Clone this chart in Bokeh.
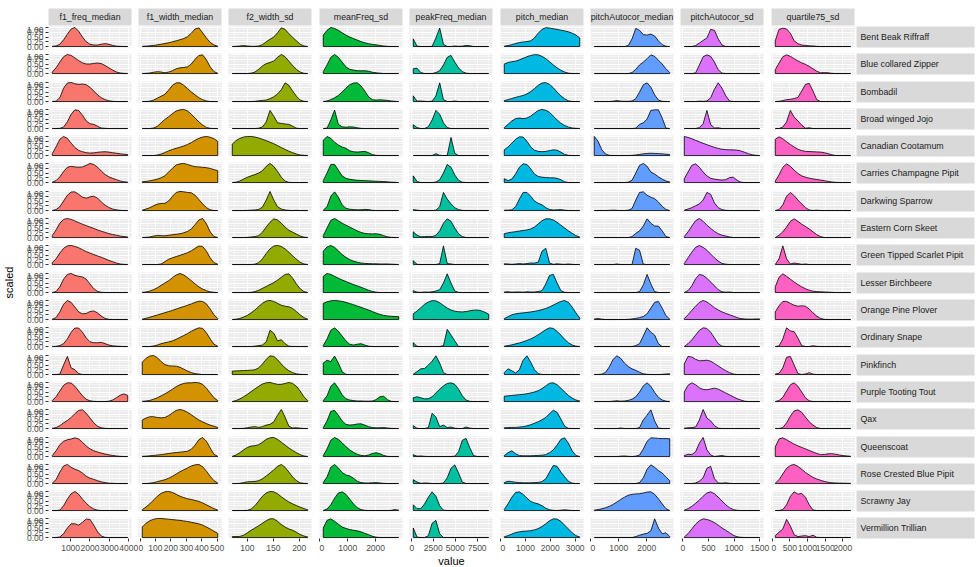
import numpy as np
from bokeh.plotting import figure
from bokeh.layouts import row, column
from bokeh.models import Range1d, FixedTicker, NumeralTickFormatter, Spacer, AllLabels
from bokeh.embed import file_html
from bokeh.resources import INLINE
from bokeh.core.properties import value

species = ["Bent Beak Riffraff", "Blue collared Zipper", "Bombadil", "Broad winged Jojo",
           "Canadian Cootamum", "Carries Champagne Pipit", "Darkwing Sparrow", "Eastern Corn Skeet",
           "Green Tipped Scarlet Pipit", "Lesser Birchbeere", "Orange Pine Plover", "Ordinary Snape",
           "Pinkfinch", "Purple Tooting Tout", "Qax", "Queenscoat", "Rose Crested Blue Pipit",
           "Scrawny Jay", "Vermillion Trillian"]
variables = ["f1_freq_median", "f1_width_median", "f2_width_sd", "meanFreq_sd", "peakFreq_median",
             "pitch_median", "pitchAutocor_median", "pitchAutocor_sd", "quartile75_sd"]
colors = ["#F8766D", "#D39200", "#93AA00", "#00BA38", "#00C19F", "#00B9E3", "#619CFF", "#DB72FB", "#FF61C3"]

# data extent of each variable (density evaluated over it)
x_lo = [53, 14.5, 70.8, 124, 214, 147, 129, 27, 87]
x_hi = [3949, 504.5, 216.4, 2829, 8820, 3184, 2816, 1500, 2223]
x_breaks = [[1000, 2000, 3000, 4000], [0, 100, 200, 300, 400, 500], [100, 150, 200], [0, 1000, 2000],
            [0, 2500, 5000, 7500], [0, 1000, 2000, 3000], [0, 1000, 2000], [0, 500, 1000, 1500],
            [0, 500, 1000, 1500, 2000]]
x_minor = [[0, 500, 1500, 2500, 3500], [50, 150, 250, 350, 450], [75, 125, 175], [500, 1500, 2500],
           [1250, 3750, 6250, 8750], [500, 1500, 2500], [500, 1500, 2500], [250, 750, 1250],
           [250, 750, 1250, 1750, 2250]]
y_breaks = [0, 0.25, 0.5, 0.75, 1.0]
y_minor = [0.125, 0.375, 0.625, 0.875]

# scaled density (x100) sampled at 21 evenly spaced points of each variable's extent
f1_freq_median = [
    [1,3,12,35,65,92,100,80,50,25,12,8,8,12,15,12,6,2,1,0,0],
    [8,30,60,88,100,95,82,68,56,50,50,53,55,52,42,30,18,8,3,1,0],
    [0,2,20,70,97,100,93,90,92,88,75,55,35,20,10,4,1,0,0,0,0],
    [0,0,1,8,35,75,98,95,70,40,25,22,12,3,1,0,0,0,0,0,0],
    [10,45,85,100,90,65,42,27,20,15,13,14,17,19,20,18,15,12,9,7,5],
    [2,10,30,58,80,85,82,80,82,90,100,95,80,60,42,30,22,15,8,4,2],
    [0,5,20,50,80,97,98,85,70,65,72,75,65,45,28,16,8,4,1,0,0],
    [10,40,75,95,100,95,87,78,70,62,55,48,40,33,27,21,16,12,8,5,3],
    [10,30,60,85,98,100,95,88,78,68,60,52,45,38,30,22,15,8,3,1,0],
    [0,5,30,70,95,100,90,85,82,70,45,20,6,1,0,0,0,0,0,0,0],
    [2,10,40,80,100,90,65,40,30,32,42,45,35,18,6,1,0,0,0,0,0],
    [0,1,5,15,40,75,97,97,75,45,25,20,20,22,15,8,4,2,1,0,0],
    [0,0,2,50,95,35,25,5,0,0,0,0,0,0,0,0,0,0,0,0,0],
    [5,25,55,85,98,97,80,55,30,12,4,1,0,0,0,2,8,20,33,40,32],
    [1,5,15,30,42,58,78,95,98,80,55,30,12,4,1,0,0,0,0,0,0],
    [5,30,62,80,88,92,98,92,75,55,40,30,24,18,13,9,6,3,1,0,0],
    [2,20,60,92,100,85,75,68,55,38,28,22,15,9,5,2,1,0,0,0,0],
    [0,0,2,25,60,88,100,85,60,38,20,8,2,0,0,0,0,0,0,0,0],
    [0,0,3,20,50,72,72,65,80,97,95,65,30,8,1,0,0,0,0,0,0],
]
f1_width_median = [
    [1,2,4,6,9,12,16,20,25,30,36,42,52,70,92,98,72,45,22,8,2],
    [0,1,3,7,10,8,4,8,15,25,30,32,35,50,75,95,98,72,35,10,2],
    [0,0,2,8,18,28,38,60,85,98,98,85,68,50,35,20,10,3,0,0,0],
    [0,0,0,3,12,30,48,62,78,92,98,100,92,75,55,35,18,6,1,0,0],
    [0,0,0,0,3,8,16,25,32,38,44,50,58,68,80,90,97,100,96,88,75],
    [4,6,9,13,18,25,36,55,75,92,98,100,95,88,83,82,80,78,74,68,62],
    [2,8,15,25,34,37,38,50,75,95,100,98,95,93,80,58,35,15,4,0,0],
    [0,1,3,8,11,10,9,12,15,17,20,25,32,45,68,92,100,72,30,5,0],
    [0,0,0,0,0,3,15,28,35,42,48,55,62,72,85,97,95,70,35,10,2],
    [1,3,8,15,25,38,50,62,78,92,100,92,78,62,45,30,18,10,4,1,0],
    [2,7,12,18,24,30,36,42,48,55,62,68,75,82,90,96,95,82,55,25,5],
    [0,0,0,3,8,15,20,24,30,38,48,58,68,80,90,98,95,72,40,12,2],
    [65,85,97,100,88,68,52,46,45,44,38,28,18,10,5,2,0,0,0,0,0],
    [1,3,6,12,20,30,40,52,65,78,88,95,98,98,100,98,90,70,45,20,5],
    [45,55,62,62,58,56,58,68,82,95,100,95,85,72,58,45,35,26,18,12,6],
    [1,2,4,6,8,10,13,16,19,21,23,25,28,38,60,88,100,80,45,12,1],
    [0,0,2,5,10,15,20,28,38,50,62,72,82,92,98,100,88,65,38,15,3],
    [5,18,35,55,75,90,98,100,95,85,75,68,62,58,53,48,40,30,20,10,3],
    [55,75,88,96,100,100,98,96,94,92,90,87,84,80,76,72,65,55,45,33,22],
]
f2_width_sd = [
    [0,1,3,5,3,1,1,3,10,25,38,50,72,98,90,68,48,30,12,3,0],
    [0,0,0,0,0,2,8,22,40,52,58,66,85,100,88,65,42,22,8,1,0],
    [0,0,0,0,0,0,1,4,6,8,15,25,40,62,98,85,55,28,8,1,0],
    [0,0,0,0,0,0,0,2,8,35,95,65,30,27,24,22,12,2,0,0,0],
    [60,78,90,97,100,100,97,92,85,78,70,62,52,42,32,23,15,8,3,1,0],
    [0,2,8,18,28,35,42,50,62,85,100,85,58,28,8,1,0,0,0,0,0],
    [0,0,0,0,1,2,3,6,18,55,100,55,20,8,3,1,0,1,0,0,0],
    [0,0,0,0,1,3,5,10,28,55,80,98,92,75,55,38,28,18,8,2,0],
    [0,0,0,0,0,0,2,10,30,58,82,97,100,95,82,65,45,28,12,3,0],
    [0,0,0,0,0,1,5,12,22,32,42,52,65,80,95,98,75,45,20,5,0],
    [0,2,6,13,22,35,50,68,85,97,100,95,85,75,70,67,58,42,25,10,2],
    [0,0,0,0,0,0,2,5,8,25,85,70,30,36,15,2,0,0,0,0,0],
    [18,19,20,21,22,23,25,35,55,80,98,95,78,55,35,20,10,4,1,0,0],
    [0,5,14,25,38,52,66,80,92,98,100,95,90,90,95,100,95,80,55,25,5],
    [0,0,0,1,4,8,10,6,10,18,22,35,70,100,60,12,3,4,2,0,0],
    [1,8,20,35,48,55,57,62,75,90,98,100,90,75,60,45,32,20,10,3,0],
    [0,0,1,5,9,10,11,15,25,40,55,72,90,100,85,60,35,15,4,1,0],
    [0,0,0,0,1,8,25,50,75,92,100,98,88,72,58,45,35,26,18,10,4],
    [5,5,6,12,25,38,50,62,75,88,98,98,85,68,55,45,38,28,16,8,3],
]
meanFreq_sd = [
    [60,85,100,95,85,72,60,50,42,34,26,20,15,11,9,6,3,1,0,0,0],
    [10,45,85,100,85,60,35,22,18,15,14,15,12,7,4,2,0,0,0,0,0],
    [0,3,10,20,32,50,70,88,97,98,82,55,25,10,8,9,8,6,3,1,0],
    [0,2,45,97,22,9,7,9,8,4,1,0,0,0,0,0,0,0,0,0,0],
    [80,100,90,70,55,45,38,25,20,18,20,22,15,5,1,0,0,0,0,0,0],
    [10,50,95,95,65,35,22,17,14,12,11,10,9,8,7,6,5,4,2,1,0],
    [2,20,75,98,70,30,12,7,5,4,4,6,5,1,0,0,0,0,0,0,0],
    [10,50,90,100,88,75,65,55,45,35,27,22,20,19,20,17,10,4,1,0,0],
    [70,92,100,90,72,52,38,26,18,12,8,6,5,4,4,3,3,3,2,1,0],
    [85,100,95,85,75,66,58,50,42,35,28,20,12,6,2,0,0,0,0,0,0],
    [85,93,98,100,98,95,90,84,78,71,64,57,50,42,34,27,22,19,17,16,15],
    [5,40,85,98,80,55,30,12,8,12,15,8,2,0,0,0,0,0,0,0,0],
    [60,75,68,97,60,15,1,0,0,0,0,0,0,0,0,0,0,0,0,0,0],
    [5,30,80,98,70,35,15,8,5,3,3,2,2,3,10,25,28,10,1,0,0],
    [5,40,90,95,70,40,22,18,20,24,25,18,10,5,4,4,5,3,1,0,0],
    [5,40,85,100,90,72,52,35,22,12,6,4,8,16,20,15,6,1,0,0,0],
    [5,35,85,100,82,58,45,40,28,12,5,3,3,4,5,3,1,0,0,0,0],
    [0,8,30,65,92,98,85,60,35,15,5,1,0,0,0,0,0,0,1,5,2],
    [50,90,98,85,70,55,48,42,38,35,30,22,15,7,2,0,0,0,0,0,0],
]
peakFreq_median = [
    [40,2,0,0,0,1,45,97,12,0,0,3,1,2,6,4,0,0,0,0,0],
    [25,28,5,0,0,0,5,15,45,85,95,60,30,10,2,0,0,0,0,0,0],
    [30,2,3,1,0,2,30,98,10,0,0,3,0,0,0,0,0,0,0,0,0],
    [20,5,0,0,10,45,95,75,30,5,0,0,0,0,0,0,0,0,0,0,0],
    [0,0,0,0,0,0,10,1,0,0,95,12,0,0,0,0,0,0,0,0,0],
    [35,5,0,0,0,0,3,15,50,95,80,40,12,2,0,0,0,0,0,0,0],
    [5,2,0,0,0,0,2,20,95,60,35,15,5,1,0,0,0,0,0,0,0],
    [30,12,4,5,6,5,12,35,75,98,85,50,20,5,0,0,0,0,0,0,0],
    [20,1,0,0,0,0,0,5,98,5,3,0,0,0,0,0,0,0,0,0,0],
    [10,2,1,3,2,4,8,15,50,98,50,8,1,0,0,0,0,0,0,0,0],
    [30,45,62,80,92,99,98,88,74,60,50,44,41,40,42,46,49,50,46,38,28],
    [20,1,0,0,0,0,0,0,5,90,60,30,0,0,0,0,0,0,0,0,0],
    [2,15,30,32,50,70,98,60,10,0,0,0,0,0,0,0,0,0,0,0,0],
    [20,25,20,14,15,25,45,65,82,95,98,90,65,30,8,1,0,0,0,0,0],
    [15,1,0,0,5,80,60,10,18,5,8,2,0,0,8,2,0,0,0,0,0],
    [10,2,3,1,0,0,0,0,0,0,0,2,25,85,95,45,5,0,0,0,0],
    [20,8,1,3,2,0,0,0,3,30,80,98,55,8,0,0,0,0,0,0,0],
    [30,10,10,35,70,98,75,25,2,0,0,0,0,0,0,0,0,0,0,0,0],
    [50,2,0,0,10,75,90,20,0,0,0,0,0,0,0,0,0,0,0,0,0],
]
pitch_median = [
    [2,5,10,16,21,24,26,30,45,70,90,99,97,93,90,86,82,77,70,60,45],
    [50,58,62,65,72,80,88,95,99,98,90,78,62,45,30,17,8,2,0,0,0],
    [5,10,16,22,27,32,40,52,68,85,97,99,90,72,50,30,14,4,0,0,0],
    [5,22,40,52,55,52,55,65,80,95,100,96,85,65,45,28,16,8,3,1,0],
    [30,45,65,85,98,97,75,45,28,22,20,22,26,30,28,18,6,1,0,0,0],
    [20,10,18,45,80,98,95,72,45,32,28,26,25,25,22,15,4,0,0,0,0],
    [2,2,4,20,60,95,95,75,50,38,30,15,5,3,4,5,2,0,0,0,0],
    [20,25,28,31,34,37,40,45,55,72,88,98,98,92,80,65,50,35,22,10,3],
    [4,3,1,3,5,3,5,8,8,12,70,85,8,1,4,2,1,3,1,0,0],
    [3,4,2,3,3,2,4,3,3,5,10,45,90,95,50,10,1,0,0,0,0],
    [5,15,25,30,33,35,37,40,43,47,52,58,66,76,86,95,100,90,65,35,8],
    [2,5,9,14,19,25,32,40,50,62,75,88,98,95,80,60,38,20,8,2,0],
    [10,30,20,8,25,75,98,65,25,5,0,0,0,0,0,0,0,0,0,0,0],
    [28,30,32,34,36,38,41,45,50,57,68,82,96,98,88,70,50,32,18,8,3],
    [4,5,6,6,8,10,14,20,28,36,46,58,78,96,85,50,12,1,0,0,0],
    [5,20,30,15,5,4,4,4,5,6,7,10,20,35,60,90,98,70,30,5,0],
    [5,12,10,7,5,4,4,4,5,6,10,25,60,95,90,60,35,12,2,0,0],
    [5,35,70,95,98,85,65,48,40,35,25,12,4,1,0,2,4,2,0,0,0],
    [4,10,18,26,30,33,34,36,40,47,58,72,88,98,97,85,65,45,25,10,3],
]
pitchAutocor_median = [
    [0,0,0,0,0,0,0,0,0,5,40,95,85,62,60,65,55,30,10,1,0],
    [0,0,0,0,0,0,0,0,0,0,5,22,45,60,78,98,90,70,50,25,5],
    [0,0,0,0,0,2,5,2,1,1,3,15,50,88,98,75,35,8,1,0,0],
    [0,0,0,0,0,0,0,0,0,0,0,2,22,30,50,95,98,98,55,2,0],
    [100,75,30,8,1,0,0,0,0,0,1,3,6,9,11,12,11,10,9,7,5],
    [0,0,0,0,0,0,0,0,0,2,12,50,90,100,85,55,45,30,18,8,3],
    [0,0,0,0,1,2,1,0,0,2,10,55,95,98,80,70,62,45,22,6,0],
    [0,0,0,0,0,0,0,0,0,0,5,22,35,60,98,75,60,60,35,5,0],
    [0,0,0,0,0,0,3,0,0,0,0,85,75,2,0,0,0,0,0,0,0],
    [0,0,0,0,0,0,0,0,0,0,0,0,5,40,95,45,5,0,0,0,0],
    [3,5,2,0,0,0,0,0,0,1,3,6,10,16,30,60,90,95,60,20,3],
    [0,0,0,0,0,0,0,0,0,0,0,5,15,55,98,75,60,15,0,0,0],
    [0,0,2,12,40,80,98,85,60,42,30,22,12,4,1,0,0,0,1,3,4],
    [0,0,0,0,0,2,4,2,3,6,12,25,50,82,98,80,48,22,8,2,0],
    [0,0,0,0,0,0,0,3,0,0,0,0,5,45,70,98,40,2,0,0,0],
    [0,0,0,0,0,0,0,2,3,1,0,2,8,40,80,98,97,95,94,94,93],
    [0,0,0,0,0,0,0,0,0,0,0,0,5,30,75,98,85,68,55,35,15],
    [2,5,9,15,22,32,45,58,70,80,85,87,88,92,97,98,85,62,35,10,0],
    [0,0,0,0,0,0,0,0,0,0,0,5,12,18,22,35,98,50,20,25,5],
]
pitchAutocor_sd = [
    [0,0,0,5,18,32,45,90,85,40,8,0,0,0,0,0,0,0,0,0,0],
    [0,0,0,3,45,88,98,90,60,20,2,0,0,0,0,0,0,0,0,0,0],
    [0,0,0,0,2,1,3,20,65,98,70,30,3,0,0,0,0,0,0,0,0],
    [0,0,0,0,5,25,95,20,3,4,0,0,0,0,0,0,0,0,0,0,0],
    [100,95,88,80,72,64,57,50,43,37,33,31,30,30,28,24,17,10,4,1,0],
    [20,55,90,98,80,55,35,22,18,15,13,15,26,28,12,2,0,0,0,0,0],
    [2,8,15,25,35,55,95,85,40,15,5,1,0,0,0,0,0,0,0,0,0],
    [5,30,60,88,100,85,65,48,32,20,12,8,3,0,0,0,0,0,0,0,0],
    [5,35,65,90,100,90,75,55,35,18,6,2,0,0,0,0,0,0,0,0,0],
    [0,10,35,72,95,90,75,55,35,15,4,2,3,0,0,0,0,0,0,0,0],
    [5,25,48,70,90,100,92,78,62,50,40,32,25,18,10,5,3,2,2,3,3],
    [0,15,35,60,85,98,95,75,45,15,2,0,0,0,0,0,0,0,0,0,0],
    [55,95,92,80,72,73,75,70,58,45,32,20,10,3,0,0,0,0,0,0,0],
    [50,85,98,88,72,63,62,66,70,65,55,45,35,25,15,8,2,0,0,0,0],
    [2,4,5,8,45,100,55,40,15,2,0,0,0,0,0,0,0,0,0,0,0],
    [5,12,10,25,70,100,35,8,0,3,5,1,0,0,0,0,0,0,0,0,0],
    [0,0,0,3,12,30,80,90,25,3,2,4,1,0,0,0,0,0,0,0,0],
    [2,10,22,38,55,75,92,98,88,70,50,30,15,5,1,0,0,0,0,0,0],
    [3,20,45,70,88,98,95,88,78,65,50,38,25,12,4,1,0,0,0,0,0],
]
quartile75_sd = [
    [30,90,96,92,70,30,15,8,6,4,3,1,0,0,0,0,0,0,0,0,0],
    [20,55,88,98,90,78,66,56,48,38,25,12,4,5,4,1,0,0,0,0,0],
    [0,1,5,10,12,15,22,55,90,95,55,10,0,0,0,0,0,0,0,0,0],
    [0,0,8,35,95,60,40,18,2,4,0,0,0,0,0,0,0,0,0,0,0],
    [85,98,88,72,58,45,33,26,22,21,20,19,18,15,10,4,0,0,0,0,0],
    [8,40,80,98,85,65,48,35,28,23,19,16,13,10,6,3,1,0,0,0,0],
    [0,5,30,75,95,78,55,35,15,3,0,2,0,0,0,0,0,0,0,0,0],
    [0,12,30,55,85,98,85,70,58,45,30,15,5,0,0,0,0,0,0,0,0],
    [0,30,98,30,3,8,5,1,3,0,0,0,0,0,0,0,0,0,0,0,0],
    [30,80,98,85,70,55,42,30,20,12,7,5,4,3,2,1,0,0,0,0,0],
    [40,72,95,95,85,75,70,72,70,55,35,18,6,1,0,0,0,0,0,0,0],
    [0,3,40,98,82,78,45,5,0,0,4,1,0,0,0,0,0,0,0,0,0],
    [3,6,35,90,95,50,5,0,3,10,2,0,0,0,0,0,0,0,0,0,0],
    [0,5,22,55,88,98,80,50,20,4,0,0,0,0,0,0,0,0,0,0,0],
    [0,0,5,30,65,92,98,85,60,35,18,5,0,0,0,0,0,0,0,0,0],
    [50,92,98,88,76,65,56,48,40,32,24,16,10,11,14,15,12,8,5,3,1],
    [2,20,50,80,95,100,90,75,58,45,32,24,17,11,7,4,3,2,2,1,1],
    [0,0,5,30,75,98,86,90,70,30,3,0,0,0,0,0,0,0,0,0,0],
    [10,28,45,95,60,15,5,8,10,5,12,1,0,0,0,0,0,0,0,0,0],
]
density = [f1_freq_median, f1_width_median, f2_width_sd, meanFreq_sd, peakFreq_median,
           pitch_median, pitchAutocor_median, pitchAutocor_sd, quartile75_sd]

FONT = "Liberation Sans"
FW, FH = 83, 21
right_gap = [7, 7, 8, 7, 8, 7, 7, 8, 2]
tops = [int(round(26 + 27.3 * j)) for j in range(len(species))]
row_bottom = [tops[j + 1] - tops[j] - FH for j in range(len(species) - 1)] + [15]


def style_axis(ax):
    ax.axis_line_color = None
    ax.major_tick_line_color = "#333333"
    ax.major_tick_line_width = 1
    ax.major_tick_out = 3
    ax.major_tick_in = 0
    ax.minor_tick_line_color = None
    ax.major_label_text_font = FONT
    ax.major_label_text_font_size = "8.5px"
    ax.major_label_text_color = "#4D4D4D"
    ax.major_label_standoff = 2
    ax.major_label_policy = AllLabels()


def blank(fw, fh, l=0, r=0, t=0, b=0, bg="white"):
    p = figure(frame_width=fw, frame_height=fh, x_range=Range1d(0, 1), y_range=Range1d(0, 1),
               x_axis_location=None, y_axis_location=None, toolbar_location=None,
               output_backend="svg", min_border_left=l, min_border_right=r,
               min_border_top=t, min_border_bottom=b, background_fill_color=bg,
               border_fill_color="white", outline_line_color=None)
    p.xgrid.visible = False
    p.ygrid.visible = False
    return p


yr = Range1d(-0.05, 1.05)
xrs = []
for lo, hi in zip(x_lo, x_hi):
    pad = 0.05 * (hi - lo)
    xrs.append(Range1d(lo - pad, hi + pad))

# header strips
header_figs = []
for i, var in enumerate(variables):
    h = blank(FW, 17, l=(32 if i == 0 else 0), r=right_gap[i], t=8, b=1, bg="#D9D9D9")
    h.text(x=[0.5], y=[0.5], text=[var], text_font=value(FONT), text_font_size="8.8px",
           text_color="#1A1A1A", text_align="center", text_baseline="middle")
    header_figs.append(h)

body_rows = []
for j, sp in enumerate(species):
    figs = []
    for i, var in enumerate(variables):
        last = (j == len(species) - 1)
        p = figure(frame_width=FW, frame_height=FH, x_range=xrs[i], y_range=yr,
                   x_axis_location=("below" if last else None),
                   y_axis_location=("left" if i == 0 else None),
                   toolbar_location=None, output_backend="svg",
                   min_border_left=(32 if i == 0 else 0), min_border_right=right_gap[i],
                   min_border_top=0, min_border_bottom=row_bottom[j],
                   background_fill_color="#EBEBEB", border_fill_color="white",
                   outline_line_color=None)
        xt = FixedTicker(ticks=x_breaks[i], minor_ticks=x_minor[i])
        yt = FixedTicker(ticks=y_breaks, minor_ticks=y_minor)
        p.xgrid.ticker = xt
        p.ygrid.ticker = yt
        for g in (p.xgrid[0], p.ygrid[0]):
            g.grid_line_color = "white"
            g.grid_line_width = 0.9
            g.minor_grid_line_color = "white"
            g.minor_grid_line_width = 0.45
        if last:
            p.xaxis.ticker = xt
            p.xaxis.formatter = NumeralTickFormatter(format="0")
            style_axis(p.xaxis[0])
        if i == 0:
            p.yaxis.ticker = FixedTicker(ticks=y_breaks, minor_ticks=[])
            p.yaxis.formatter = NumeralTickFormatter(format="0.00")
            style_axis(p.yaxis[0])
        vals = np.array(density[i][j], dtype=float) / 100.0
        xs = np.linspace(x_lo[i], x_hi[i], len(vals))
        px = np.concatenate([[x_lo[i]], xs, [x_hi[i]]])
        py = np.concatenate([[0.0], vals, [0.0]])
        p.patch(px, py, fill_color=colors[i], line_color="black", line_width=0.8)
        figs.append(p)
    s = blank(118, FH, l=0, r=6, t=0, b=row_bottom[j], bg="#D9D9D9")
    s.text(x=[0], y=[0.5], text=[sp], text_font=value(FONT), text_font_size="8.8px",
           text_color="#1A1A1A", text_align="left", text_baseline="middle", x_offset=4)
    figs.append(s)
    body_rows.append(row(figs))

body_h = (tops[-1] - tops[0]) + FH + row_bottom[-1]
scaled = blank(16, body_h)
panel_mid = (tops[0] + tops[-1] + FH) / 2.0
scaled.text(x=[0.5], y=[1 - (panel_mid - tops[0]) / body_h], text=["scaled"], angle=np.pi / 2,
            text_font=value(FONT), text_font_size="11px", text_color="black",
            text_align="center", text_baseline="middle")

value_fig = blank(806, 14)
value_fig.text(x=[0.5], y=[0.5], text=["value"], text_font=value(FONT), text_font_size="11px",
               text_color="black", text_align="center", text_baseline="middle")

layout = column(
    row([Spacer(width=16, height=26)] + header_figs + [Spacer(width=124, height=26)]),
    row(scaled, column(body_rows)),
    row(Spacer(width=48, height=14), value_fig, Spacer(width=126, height=14)),
)

open("out.html", "w").write(file_html(layout, INLINE))
